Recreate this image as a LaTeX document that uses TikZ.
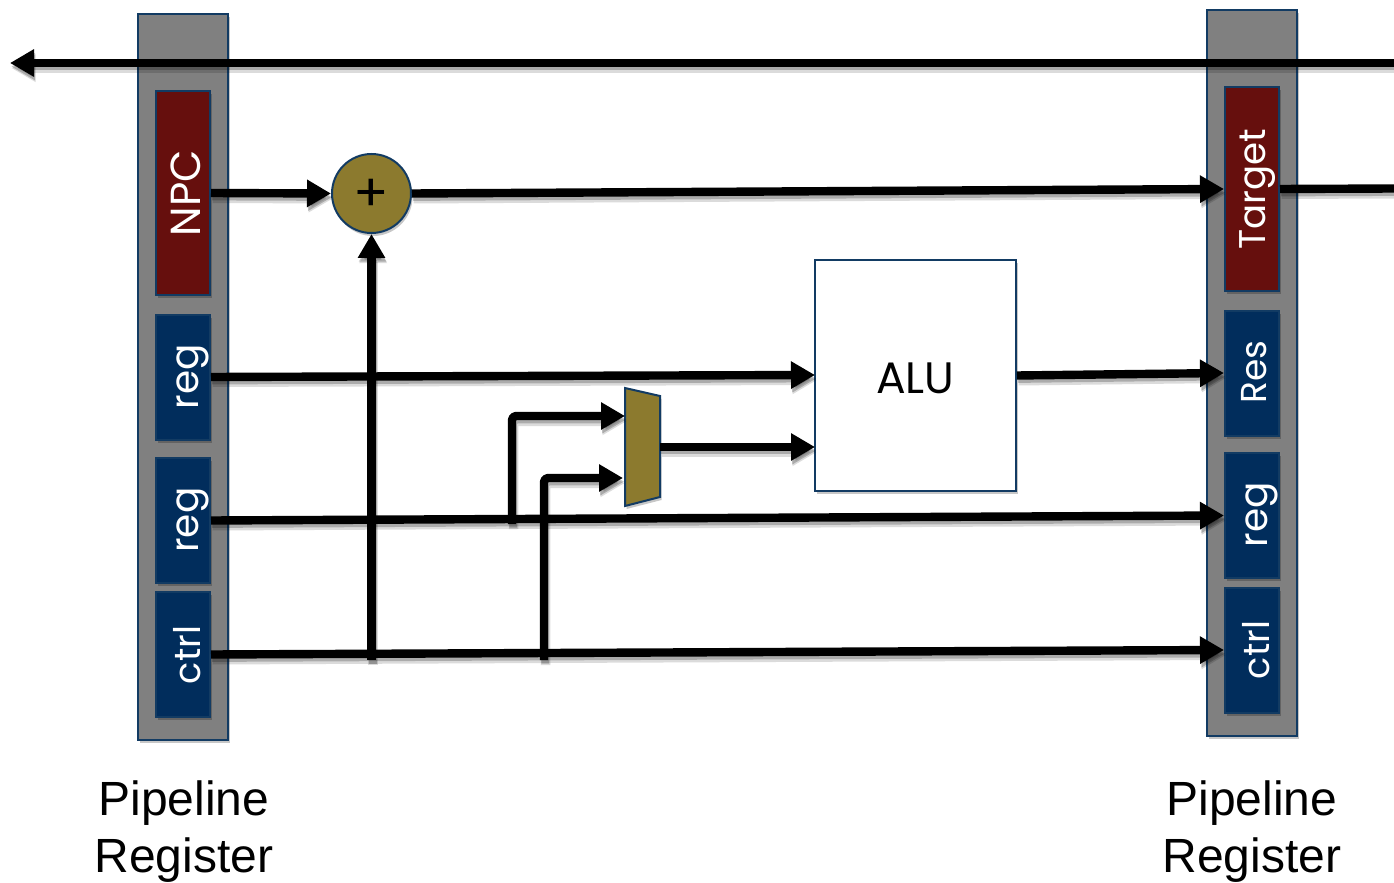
\documentclass[tikz,border=0pt]{standalone}
\usepackage{fontspec}
\setmainfont{Liberation Sans}
\newfontfamily\gothic{Poppins}
\usetikzlibrary{arrows.meta,shadows}
\definecolor{edgeblue}{HTML}{123B63}
\definecolor{regred}{HTML}{660F0D}
\definecolor{regblue}{HTML}{012D5C}
\definecolor{olivebox}{HTML}{8C7A2E}
\definecolor{bargray}{HTML}{808080}
\tikzset{
  softshadow/.style={drop shadow={shadow xshift=.8pt,shadow yshift=-1.5pt,fill=black,opacity=.22}},
  bar/.style={draw=edgeblue,line width=1pt,fill=bargray,minimum width=45pt,softshadow,inner sep=0pt},
  cell/.style={draw=edgeblue,line width=1pt,minimum width=27pt,inner sep=0pt,softshadow,text=white},
  redcell/.style={cell,fill=regred,minimum height=102pt},
  bluecell/.style={cell,fill=regblue,minimum height=62.5pt},
  celltext/.style={rotate=90,text=white},
  wire/.style={line width=4.2pt,line join=round,
    preaction={draw=black,opacity=.14,line width=4.8pt,transform canvas={shift={(.8pt,-2.6pt)}}},
    preaction={draw=black,opacity=.22,line width=3.8pt,transform canvas={shift={(.6pt,-1.8pt)}}}},
  arrowed/.style={wire,-{Triangle[length=12pt,width=13pt]}},
  caption/.style={align=center,font=\fontsize{24}{28.5}\selectfont,inner sep=0pt}
}
\begin{document}
\begin{tikzpicture}[x=.5pt,y=-.5pt]
\useasboundingbox (0,0) rectangle (1394,883);
% pipeline bars
\node[bar,minimum height=363pt] (barL) at (183,377) {};
\node[bar,minimum height=363pt] (barR) at (1252,373) {};
% left cells
\node[redcell] (npc) at (183,193) {};
\node[bluecell] (regA) at (183,377) {};
\node[bluecell] (regB) at (183,520.5) {};
\node[bluecell] (ctrlL) at (183,654.5) {};
% right cells
\node[redcell] (target) at (1252,189) {};
\node[bluecell] (res) at (1252,373) {};
\node[bluecell] (regC) at (1252,515.5) {};
\node[bluecell] (ctrlR) at (1252,650) {};
% adder, alu
\node[circle,draw=edgeblue,line width=1pt,fill=olivebox,minimum size=39.5pt,inner sep=0pt,softshadow,font=\gothic\fontsize{26}{26}\selectfont] (adder) at (371.5,193.5) {\raisebox{-9.25pt}[0pt][0pt]{+}};
\node[draw=edgeblue,line width=1pt,fill=white,minimum width=100.5pt,minimum height=115.5pt,inner sep=0pt,softshadow,font=\gothic\fontsize{22}{24}\selectfont] (alu) at (915.5,375.5) {\raisebox{-9pt}[0pt][0pt]{ALU}};
% mux
\draw[draw=edgeblue,line width=1pt,fill=olivebox,softshadow] (625,388) -- (660,396) -- (660,497) -- (625,506) -- cycle;
\coordinate (muxinA) at (625,416);
\coordinate (muxinB) at (623,478);
\coordinate (muxout) at (660,447);
\coordinate (aluinB) at (815,447);
\coordinate (aluinA) at (815,375);
\coordinate (tapA) at (512,524);
\coordinate (tapB) at (544,660);
\coordinate (tapC) at (371.5,660);
\coordinate (topR) at (1394,63);
\coordinate (topL) at (10,63);
\coordinate (targetout) at (1394,188.5);
% top bus
\draw[arrowed] (topR) -- (topL);
% wires
\draw[arrowed] (npc.east) -- (adder.west);
\draw[arrowed] (adder.east) -- (target.west);
\draw[wire] (target.east) -- (targetout);
\draw[arrowed] (regA.east) -- (aluinA);
\draw[arrowed] (alu.east) -- (res.west);
\draw[arrowed] (regB.east) -- (regC.west);
\draw[arrowed] (ctrlL.east) -- (ctrlR.west);
\draw[arrowed] (tapC) -- (adder.south);
\draw[arrowed,rounded corners=2pt] (tapA) |- (muxinA);
\draw[arrowed,rounded corners=2pt] (tapB) |- (muxinB);
\draw[arrowed] (muxout) -- (aluinB);
% cell labels
\node[celltext,font=\gothic\fontsize{21}{24}\selectfont] (npct) at (186,193) {NPC};
\node[celltext,font=\gothic\fontsize{19.5}{24}\selectfont] (regAt) at (193,377) {reg};
\node[celltext,font=\gothic\fontsize{19.5}{24}\selectfont] (regBt) at (193,520) {reg};
\node[celltext,font=\gothic\fontsize{18.3}{24}\selectfont] (ctrlLt) at (187,655) {ctrl};
\node[celltext,font=\gothic\fontsize{18.6}{24}\selectfont] (targett) at (1258,189) {Target};
\node[celltext,font=\gothic\fontsize{18}{24}\selectfont] (rest) at (1254,372) {Res};
\node[celltext,font=\gothic\fontsize{19.5}{24}\selectfont] (regCt) at (1262,515) {reg};
\node[celltext,font=\gothic\fontsize{18.3}{24}\selectfont] (ctrlRt) at (1256,650) {ctrl};
% captions
\node[caption] (capL) at (184,832) {Pipeline\\Register};
\node[caption] (capR) at (1252,832) {Pipeline\\Register};
\end{tikzpicture}
\end{document}
